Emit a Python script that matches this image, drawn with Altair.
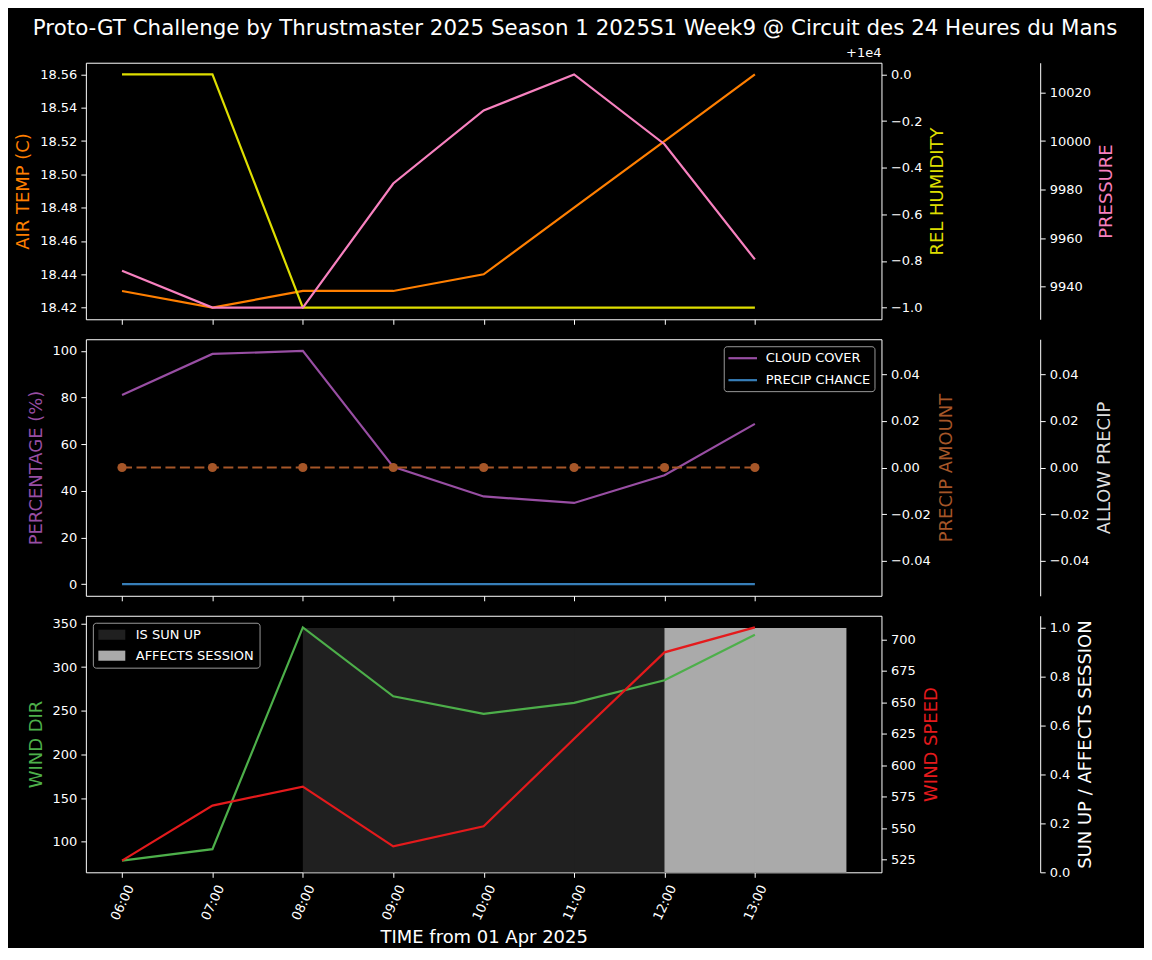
import altair as alt
import pandas as pd

# ---------------- data ----------------
times = ["06:00", "07:00", "08:00", "09:00", "10:00", "11:00", "12:00", "13:00"]
air_temp = [18.43, 18.42, 18.43, 18.43, 18.44, 18.48, 18.52, 18.56]
rel_humidity = [10000.0, 10000.0, 9999.0, 9999.0, 9999.0, 9999.0, 9999.0, 9999.0]
pressure = [9946.5, 9931.3, 9931.3, 9982.5, 10012.6, 10027.5, 9998.7, 9951.2]
cloud_cover = [81.1, 98.7, 100.0, 50.3, 37.6, 34.8, 46.7, 68.7]
precip_chance = [0, 0, 0, 0, 0, 0, 0, 0]
precip_amount = [0.0, 0.0, 0.0, 0.0, 0.0, 0.0, 0.0, 0.0]
allow_precip = [0, 0, 0, 0, 0, 0, 0, 0]
wind_dir = [78.3, 91.5, 345.4, 266.5, 246.4, 259.0, 284.8, 337.1]
wind_speed = [524.2, 567.9, 583.0, 535.6, 551.5, 621.0, 689.7, 709.5]
is_sun_up = [0, 0, 1, 1, 1, 1, 1, 1]
affects_session = [0, 0, 0, 0, 0, 0, 1, 1]

temp_ticks = [18.42, 18.44, 18.46, 18.48, 18.50, 18.52, 18.54, 18.56]
hum_ticks = [9999.0, 9999.2, 9999.4, 9999.6, 9999.8, 10000.0]
hum_offset = 10000
hum_offset_label = "+1e4"
pres_ticks = [9940, 9960, 9980, 10000, 10020]
pct_ticks = [0, 20, 40, 60, 80, 100]
precip_ticks = [-0.04, -0.02, 0.0, 0.02, 0.04]
wdir_ticks = [100, 150, 200, 250, 300, 350]
wspd_ticks = [525, 550, 575, 600, 625, 650, 675, 700]
sun_ticks = [0.0, 0.2, 0.4, 0.6, 0.8, 1.0]

title_text = "Proto-GT Challenge by Thrustmaster 2025 Season 1 2025S1 Week9 @ Circuit des 24 Heures du Mans"
x_title = "TIME from 01 Apr 2025"

# ---------------- style ----------------
FONT = "DejaVu Sans"
FG = "#ffffff"
BG = "#000000"
C_TEMP = "#ff7f00"
C_HUM = "#dede00"
C_PRES = "#f781bf"
C_CLOUD = "#984ea3"
C_PCH = "#377eb8"
C_PAMT = "#a65628"
C_ALLOW = "#dddddd"
C_WDIR = "#4daf4a"
C_WSPD = "#e41a1c"
C_SUN = "#202020"
C_AFF = "#aaaaaa"
W, H = 797, 257
THIRD = 159
LW = 2.2
SEAM = 0.012  # tiny overlap so adjacent hourly bars show no anti-alias seam

hours = [int(t[:2]) for t in times]
hour_end = [h + 1 for h in hours]
x_span = max(hour_end) - min(hours)
x_dom = [min(hours) - 0.05 * x_span, max(hour_end) + 0.05 * x_span]


def padded(vals):
    lo, hi = min(vals), max(vals)
    if hi == lo:
        return [lo - 0.055, hi + 0.055]
    p = 0.05 * (hi - lo)
    return [lo - p, hi + p]


def xenc(last=False):
    kw = dict(values=hours,
              labelExpr="(datum.value < 10 ? '0' : '') + datum.value + ':00'",
              tickSize=5, domain=False, grid=False, labels=last)
    if last:
        kw.update(title=x_title, labelAngle=-65, titlePadding=6, labelPadding=8,
                  labelOffset=8, titleColor=FG)
    else:
        kw.update(title=None)
    return alt.X("hour:Q", scale=alt.Scale(domain=x_dom, nice=False, zero=False),
                 axis=alt.Axis(**kw))


def yax(title, color, orient, values, fmt=None, expr=None, offset=None, dom=False):
    kw = dict(orient=orient, title=title, titleColor=color, values=values, grid=False,
              domain=dom, tickSize=5, labelPadding=4, titlePadding=7)
    if fmt:
        kw["format"] = fmt
    if expr:
        kw["labelExpr"] = expr
    if offset is not None:
        kw["offset"] = offset
    if orient == "right":
        kw["titleAngle"] = 270
        kw["titleBaseline"] = "top"
    return alt.Axis(**kw)


def yscale(dom):
    return alt.Scale(domain=dom, nice=False, zero=False)


# ---------------- panel 1 ----------------
df1 = pd.DataFrame({"hour": hours, "air_temp": air_temp,
                    "rel_humidity": rel_humidity, "pressure": pressure})
b1 = alt.Chart(df1)
l_temp = b1.mark_line(color=C_TEMP, strokeWidth=LW).encode(
    x=xenc(),
    y=alt.Y("air_temp:Q", scale=yscale(padded(air_temp)),
            axis=yax("AIR TEMP (C)", C_TEMP, "left", temp_ticks, fmt=".2f")))
l_hum = b1.mark_line(color=C_HUM, strokeWidth=LW).encode(
    x=xenc(),
    y=alt.Y("rel_humidity:Q", scale=yscale(padded(rel_humidity)),
            axis=yax("REL HUMIDITY", C_HUM, "right", hum_ticks,
                     expr="format(datum.value - %d, '.1f')" % hum_offset)))
l_pres = b1.mark_line(color=C_PRES, strokeWidth=LW).encode(
    x=xenc(),
    y=alt.Y("pressure:Q", scale=yscale(padded(pressure)),
            axis=yax("PRESSURE", C_PRES, "right", pres_ticks, fmt="d", offset=THIRD, dom=True)))
t_off = alt.Chart(pd.DataFrame({"txt": [hum_offset_label]})).mark_text(
    align="right", baseline="bottom", fontSize=13, font=FONT, color=FG).encode(
    x=alt.value(W), y=alt.value(-3), text="txt:N")
p1 = alt.layer(l_temp, l_hum, l_pres, t_off).resolve_scale(y="independent").properties(width=W, height=H)

# ---------------- panel 2 ----------------
series_names = ["CLOUD COVER", "PRECIP CHANCE"]
df2 = pd.DataFrame({
    "hour": hours * 2,
    "series": [series_names[0]] * len(hours) + [series_names[1]] * len(hours),
    "value": cloud_cover + precip_chance,
})
l_pct = alt.Chart(df2).mark_line(strokeWidth=LW).encode(
    x=xenc(),
    y=alt.Y("value:Q", scale=yscale([-5, 105]),
            axis=yax("PERCENTAGE (%)", C_CLOUD, "left", pct_ticks, fmt="d")),
    color=alt.Color("series:N", scale=alt.Scale(domain=series_names, range=[C_CLOUD, C_PCH]),
                    legend=alt.Legend(title=None, orient="top-right", offset=7,
                                      symbolType="M-2.2,0H2.2", symbolSize=169,
                                      symbolStrokeWidth=2.2, symbolOffset=7, labelOffset=15,
                                      rowPadding=7, padding=4)))
dfp = pd.DataFrame({"hour": hours, "precip_amount": precip_amount, "allow_precip": allow_precip})
l_amt = alt.Chart(dfp).mark_line(
    color=C_PAMT, strokeWidth=LW, strokeDash=[10, 4.5],
    point=alt.OverlayMarkDef(filled=True, size=85, color=C_PAMT, opacity=1)).encode(
    x=xenc(),
    y=alt.Y("precip_amount:Q", scale=yscale(padded(precip_amount)),
            axis=yax("PRECIP AMOUNT", C_PAMT, "right", precip_ticks, fmt=".2f")))
l_allow = alt.Chart(dfp).mark_line(opacity=0).encode(
    x=xenc(),
    y=alt.Y("allow_precip:Q", scale=yscale(padded(allow_precip)),
            axis=yax("ALLOW PRECIP", C_ALLOW, "right", precip_ticks, fmt=".2f", offset=THIRD, dom=True)))
p2 = alt.layer(l_pct, l_amt, l_allow).resolve_scale(y="independent").properties(width=W, height=H)

# ---------------- panel 3 ----------------
flag_names = ["IS SUN UP", "AFFECTS SESSION"]
df3 = pd.DataFrame({
    "hour": hours * 2,
    "hour_end": hour_end * 2,
    "flag": [flag_names[0]] * len(hours) + [flag_names[1]] * len(hours),
    "value": is_sun_up + affects_session,
    "base": [0] * (2 * len(hours)),
})
flag_scale = alt.Scale(domain=flag_names, range=[C_SUN, C_AFF])
l_bar = alt.Chart(df3).transform_filter("datum.value > 0").transform_calculate(
    hour_end2="datum.hour_end + %f" % SEAM).mark_rect(strokeWidth=0).encode(
    x=xenc(True), x2="hour_end2:Q",
    y=alt.Y("value:Q", scale=yscale([0, 1.05]),
            axis=yax("SUN UP / AFFECTS SESSION", FG, "right", sun_ticks, fmt=".1f", offset=THIRD, dom=True)),
    y2="base:Q",
    color=alt.Color("flag:N", scale=flag_scale,
                    legend=alt.Legend(title=None, orient="top-left", offset=7,
                                      symbolType="M-2,-0.75H2V0.75H-2Z", symbolSize=182,
                                      symbolStrokeWidth=0, symbolOffset=7, labelOffset=17,
                                      rowPadding=7, padding=5)))
df4 = pd.DataFrame({"hour": hours, "wind_dir": wind_dir, "wind_speed": wind_speed})
l_wdir = alt.Chart(df4).mark_line(color=C_WDIR, strokeWidth=LW).encode(
    x=xenc(True),
    y=alt.Y("wind_dir:Q", scale=yscale(padded(wind_dir)),
            axis=yax("WIND DIR", C_WDIR, "left", wdir_ticks, fmt="d")))
l_wspd = alt.Chart(df4).mark_line(color=C_WSPD, strokeWidth=LW).encode(
    x=xenc(True),
    y=alt.Y("wind_speed:Q", scale=yscale(padded(wind_speed)),
            axis=yax("WIND SPEED", C_WSPD, "right", wspd_ticks, fmt="d")))
p3 = alt.layer(l_bar, l_wdir, l_wspd).resolve_scale(y="independent").properties(width=W, height=H)

chart = alt.vconcat(p1, p2, p3, spacing=13).resolve_scale(color="independent").resolve_legend(
    color="independent").properties(
    title=alt.TitleParams(text=title_text, fontSize=21.4, font=FONT, color=FG, fontWeight="normal",
                          anchor="middle", offset=7, dx=10)
).configure(
    background=BG, padding={"left": 6, "top": 9, "right": 26, "bottom": 0}
).configure_view(stroke=FG, strokeWidth=1).configure_axis(
    labelColor=FG, tickColor=FG, domainColor=FG, titleColor=FG, labelFont=FONT, titleFont=FONT,
    labelFontSize=13, titleFontSize=18, titleFontWeight="normal"
).configure_legend(
    labelColor=FG, labelFont=FONT, labelFontSize=13, fillColor=BG, strokeColor="#999999",
    cornerRadius=3
)

chart.save("out.html", embed_options={"renderer": "svg", "actions": False})
